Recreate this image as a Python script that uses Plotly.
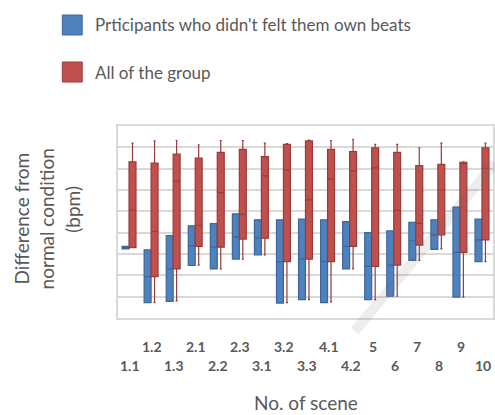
import plotly.graph_objects as go

# ---- data (bpm difference) ----
scenes = ["1.1", "1.2", "1.3", "2.1", "2.2", "2.3", "3.1", "3.2", "3.3",
          "4.1", "4.2", "5", "6", "7", "8", "9", "10"]

# Participants who didn't feel their own beats (blue boxes)
blue_q1 = [-3.8, -16.4, -16.1, -7.7, -8.5, -6.2, -5.2, -16.5, -15.7,
           -16.4, -8.5, -15.7, -14.9, -6.5, -3.9, -15.1, -6.8]
blue_med = [-3.5, -10.3, -8.5, -3.1, -3.4, -1.0, -1.3, -6.8, -6.2,
            -6.8, -3.2, -7.9, -7.6, -1.9, -0.5, -4.6, -1.7]
blue_q3 = [-3.2, -4.0, -0.7, 1.6, 2.1, 4.4, 3.0, 3.0, 3.2,
           3.0, 2.6, 0.0, 0.4, 2.4, 3.0, 6.0, 3.2]

# All of the group (red boxes)
red_low = [-3.5, -16.4, -16.0, -7.6, -8.5, -6.2, -5.2, -16.4, -15.7,
           -16.2, -8.5, -15.7, -14.9, -6.5, -3.8, -15.1, -6.8]
red_q1 = [-3.5, -10.3, -8.5, -3.2, -3.4, -1.5, -1.3, -6.8, -6.2,
          -6.8, -3.2, -7.9, -7.6, -2.9, -0.5, -4.6, -1.7]
red_med = [5.3, 0.3, 12.1, 1.7, 9.4, 4.3, 13.3, 14.7, 7.7,
           12.6, 14.5, 15.2, 5.3, 2.2, 10.0, 16.2, 15.1]
red_q3 = [16.6, 16.3, 18.4, 17.5, 18.8, 19.5, 17.8, 20.7, 21.5,
          19.5, 19.0, 19.9, 18.8, 15.7, 16.0, 16.5, 19.9]
red_high = [21.0, 21.5, 21.6, 20.6, 21.6, 21.6, 21.0, 20.9, 21.7,
            21.6, 21.9, 20.7, 20.7, 19.9, 21.0, 16.6, 21.0]

series_names = ["Prticipants who didn't felt them own beats", "All of the group"]
y_title_lines = ["Difference from", "normal condition", "(bpm)"]
x_title = "No. of scene"

# ---- styling ----
BLUE, BLUE_EDGE = "#4f81bd", "#3b679c"
RED, RED_EDGE = "#c0504d", "#963c3a"
TXT = "#595959"
GRID = "#d9d9d9"
FONT = "Lato"

W, H = 495, 415
# plot area in picture pixels: x 118..496, y 126..318
PL, PR, PT, PB = 118, 496, 126, 318
ML, MT, MB, MR = PL, PT, H - PB, 0
PW = W - ML - MR
PH = H - MT - MB


def px_x(p):
    return (p - PL) / PW


def px_y(p):
    return (PB - p) / PH


fig = go.Figure()
fig.add_trace(go.Box(
    x=scenes, q1=blue_q1, median=blue_med, q3=blue_q3,
    lowerfence=blue_q1, upperfence=blue_q3,
    name=series_names[0], fillcolor=BLUE,
    line=dict(color=BLUE_EDGE, width=1.2), whiskerwidth=0.3,
    showlegend=False, boxpoints=False,
))
fig.add_trace(go.Box(
    x=scenes, q1=red_q1, median=red_med, q3=red_q3,
    lowerfence=red_low, upperfence=red_high,
    name=series_names[1], fillcolor=RED,
    line=dict(color=RED_EDGE, width=1.2), whiskerwidth=0.3,
    showlegend=False, boxpoints=False,
))

annotations = []
shapes = []

# staggered category labels
for i, s in enumerate(scenes):
    shift = -47 if i % 2 == 0 else -28
    annotations.append(dict(
        x=i, xref="x", y=0, yref="paper", yanchor="middle", xanchor="center",
        yshift=shift, xshift=1, text=s, showarrow=False,
        font=dict(family=FONT, size=14, color=TXT, weight="bold"),
    ))

# x axis title
annotations.append(dict(
    x=px_x(307), xref="paper", y=0, yref="paper", yanchor="middle", xanchor="center",
    yshift=-84, text=x_title, showarrow=False,
    font=dict(family=FONT, size=19, color=TXT),
))

# y axis title (three rotated lines)
for xp, yp, t in zip([20, 46.5, 71.5], [219, 218.5, 209], y_title_lines):
    annotations.append(dict(
        x=px_x(xp), xref="paper", y=px_y(yp), yref="paper",
        xanchor="center", yanchor="middle", textangle=-90,
        text=t, showarrow=False,
        font=dict(family=FONT, size=19, color=TXT),
    ))

# manual legend
for (cy, name, fc, ec) in [(25, series_names[0], BLUE, BLUE_EDGE),
                           (72, series_names[1], RED, RED_EDGE)]:
    shapes.append(dict(
        type="rect", xref="paper", yref="paper",
        x0=px_x(62), x1=px_x(82), y0=px_y(cy + 10), y1=px_y(cy - 10),
        fillcolor=fc, line=dict(color=ec, width=1),
    ))
    annotations.append(dict(
        x=px_x(93), xref="paper", y=px_y(cy), yref="paper",
        xanchor="left", yanchor="middle", text=name, showarrow=False,
        font=dict(family=FONT, size=17, color=TXT),
    ))

# faint diagonal watermark stroke over the plot
shapes.append(dict(
    type="line", xref="paper", yref="paper", layer="above",
    x0=px_x(356), y0=px_y(331), x1=px_x(497), y1=px_y(163),
    line=dict(color="rgba(110,110,110,0.12)", width=10),
))

fig.update_layout(
    width=W, height=H,
    margin=dict(l=ML, r=MR, t=MT, b=MB, pad=0),
    paper_bgcolor="white", plot_bgcolor="white",
    boxmode="group", boxgap=0.37, boxgroupgap=0.0,
    showlegend=False,
    annotations=annotations, shapes=shapes,
    font=dict(family=FONT, color=TXT),
)
fig.update_xaxes(
    type="category", range=[-0.5, 16.5], showticklabels=False, ticks="",
    showgrid=False, showline=True, linecolor=GRID, linewidth=1.5, mirror=True,
    zeroline=False,
)
fig.update_yaxes(
    range=[-20, 25], dtick=5, tick0=-20, showticklabels=False, ticks="",
    showgrid=True, gridcolor=GRID, gridwidth=1.5,
    showline=True, linecolor=GRID, linewidth=1.5, mirror=True, zeroline=False,
)

fig.write_html(
    "out.html",
    config={"displayModeBar": False},
    post_script=(
        "document.body.style.margin='0';"
        "document.body.style.overflow='hidden';"
        "document.documentElement.style.overflow='hidden';"
    ),
)
